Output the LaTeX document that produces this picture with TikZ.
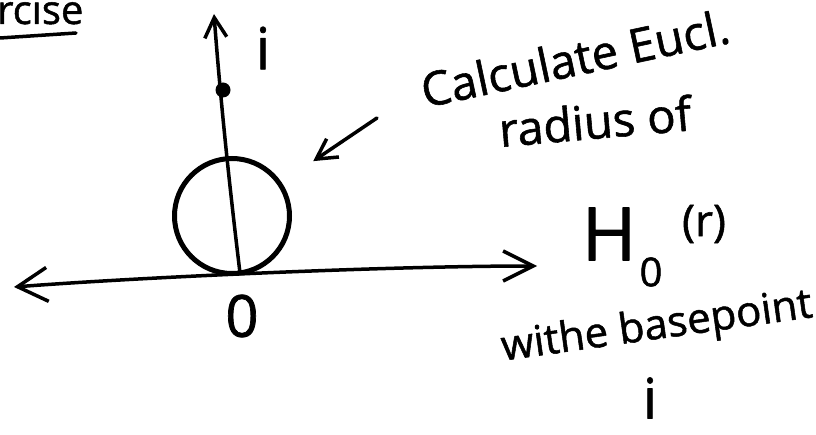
\documentclass[tikz,border=0pt]{standalone}
\usepackage{fontspec}
\setmainfont{Open Sans}
\newfontfamily\handfont{Open Sans}[FakeBold=1.2]
\usetikzlibrary{arrows.meta}
\begin{document}
\begin{tikzpicture}[x=1pt,y=-1pt,line cap=round,line join=round,
  thin stroke/.style={line width=3.5pt},
  thick stroke/.style={line width=5pt},
  bothbarb/.style={{Straight Barb[length=30pt,width=34pt,line width=3.5pt]}-{Straight Barb[length=30pt,width=30pt,line width=3.5pt]}},
  smallbarb/.style={-{Straight Barb[length=20pt,width=22pt,line width=3.5pt]}},
  hand/.style={inner sep=0pt,font=\handfont\fontsize{#1}{#1}\selectfont},
  hand/.default=40]
\path[use as bounding box] (0,0) rectangle (816,435);

% heading fragment
\node[hand=40,anchor=base west] (head) at (-3,24) {rcise};
\coordinate (ul1) at (0,38);
\coordinate (ul2) at (76,33);
\draw[thin stroke] (ul1) -- (ul2);

% axes
\coordinate (O) at (240,273);
\coordinate (L) at (14,287);
\coordinate (R) at (537,266);
\coordinate (T) at (214,14);
\draw[thin stroke,bothbarb] (L) .. controls (130,278) and (380,266) .. (R);
\draw[thin stroke,smallbarb] (O) .. controls (233,215) and (222,120) .. (T);

% circle
\node[draw,thick stroke,circle,minimum size=115pt,inner sep=0pt] (c) at (232,216) {};

% base point
\node[circle,fill,minimum size=15pt,inner sep=0pt] (p) at (223,90) {};
\node[hand=58] (ilab) at (263,48) {i};
\node[hand=58] (zero) at (242,316) {0};

% annotation
\node[hand=47,rotate=12] (calc) at (575,58) {Calculate Eucl.};
\node[hand=47,rotate=5] (rad) at (595,121) {radius of};
\coordinate (a1) at (377,118);
\draw[thin stroke,smallbarb,shorten >=38pt] (a1) -- (c);

\node[hand=74] (H) at (609,234) {H};
\node[hand=40] (sub) at (651,272) {0};
\node[hand=44] (sup) at (704,224) {(r)};
\node[hand=42,rotate=8] (with) at (657,328) {withe basepoint};
\node[hand=56] (ibot) at (650,398) {i};
\end{tikzpicture}
\end{document}
